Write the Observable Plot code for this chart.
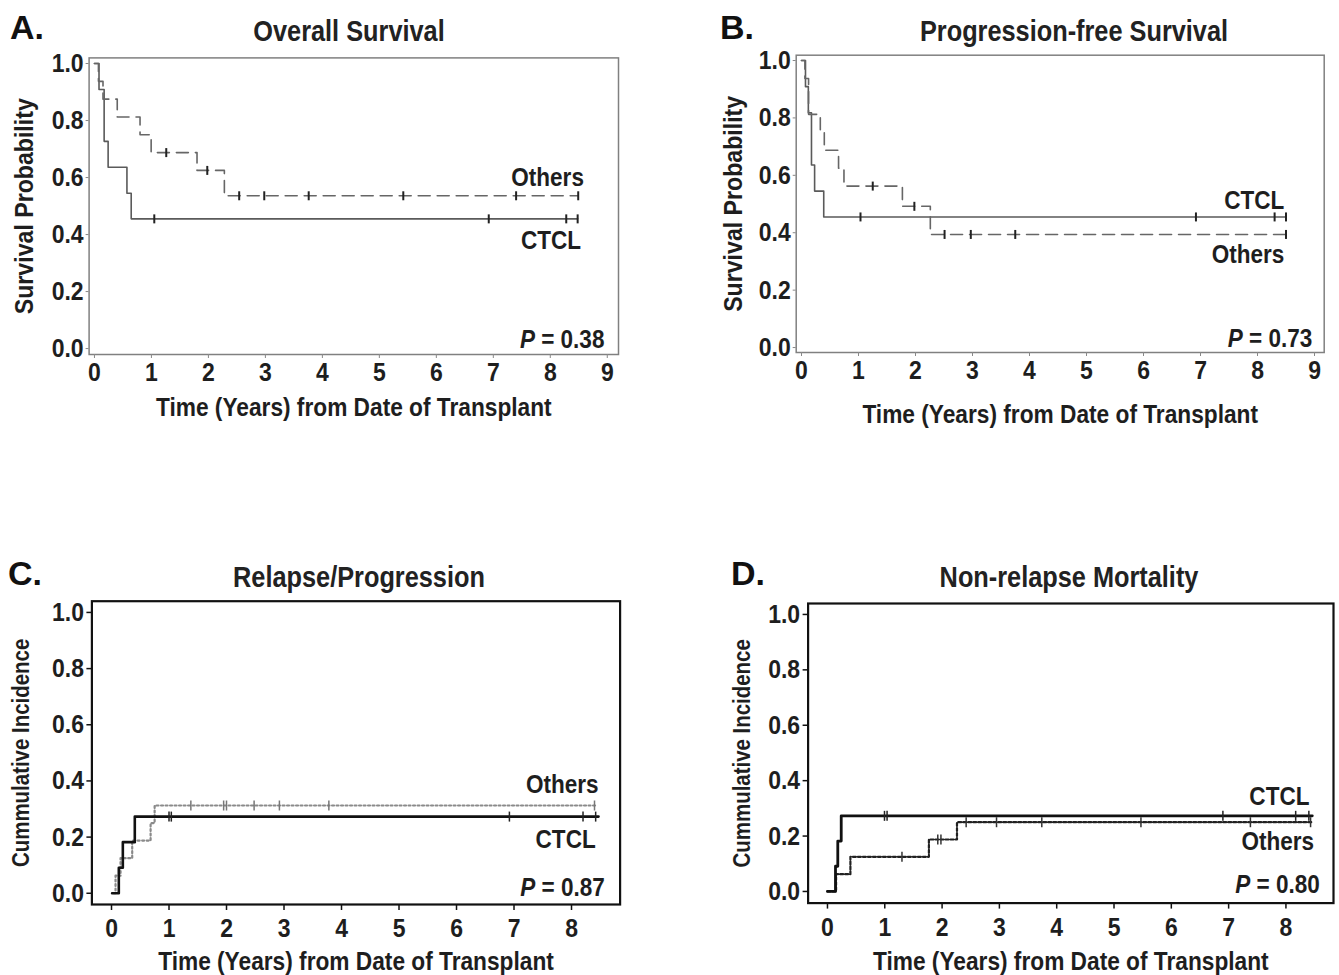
<!DOCTYPE html>
<html><head><meta charset="utf-8">
<script src="https://cdn.jsdelivr.net/npm/d3@7"></script>
<script src="https://cdn.jsdelivr.net/npm/@observablehq/plot@0.6"></script>
<style>
body{margin:0;background:#fff;}
#root{position:relative;width:1339px;height:975px;overflow:hidden;background:#fff;}
.panel{position:absolute;}
.letter{position:absolute;font-family:"Liberation Sans",Arial,sans-serif;font-weight:bold;font-size:34px;color:#111;white-space:nowrap;line-height:1;}
.title{position:absolute;font-family:"Liberation Sans",Arial,sans-serif;font-weight:bold;font-size:29.1px;color:#222;white-space:nowrap;line-height:1;transform:scaleX(0.87) translateX(-50%);transform-origin:0 0;}
</style></head><body><div id="root"></div>
<script>
// ---------- shared tick values ----------
const xTicksAB = [0,1,2,3,4,5,6,7,8,9];
const xTicksCD = [0,1,2,3,4,5,6,7,8];
const yTicks = [0,0.2,0.4,0.6,0.8,1.0];
const groups = ["CTCL","Others"];

// ---------- A. Overall Survival ----------
const osCtclTime = [0, 0.08, 0.17, 0.24, 0.57, 0.645, 8.48];
const osCtclProb = [1, 0.909, 0.727, 0.636, 0.545, 0.455, 0.455];
const osCtclCensorTime = [1.05, 6.92, 8.28, 8.48];
const osCtclCensorProb = [0.455, 0.455, 0.455, 0.455];
const osOthTime = [0, 0.07, 0.15, 0.40, 0.80, 0.995, 1.80, 2.28, 8.49];
const osOthProb = [1, 0.9375, 0.875, 0.8125, 0.75, 0.6875, 0.625, 0.536, 0.536];
const osOthCensorTime = [1.26, 1.98, 2.54, 2.98, 3.76, 5.42, 7.40, 8.49];
const osOthCensorProb = [0.6875, 0.625, 0.536, 0.536, 0.536, 0.536, 0.536, 0.536];

// ---------- B. Progression-free Survival ----------
const pfsCtclTime = [0, 0.07, 0.12, 0.175, 0.23, 0.39, 8.5];
const pfsCtclProb = [1, 0.909, 0.818, 0.636, 0.545, 0.455, 0.455];
const pfsCtclCensorTime = [1.035, 6.92, 8.30, 8.50];
const pfsCtclCensorProb = [0.455, 0.455, 0.455, 0.455];
const pfsOthTime = [0, 0.06, 0.124, 0.33, 0.40, 0.65, 0.745, 1.77, 2.26, 8.5];
const pfsOthProb = [1, 0.9375, 0.8125, 0.75, 0.6875, 0.625, 0.5625, 0.492, 0.394, 0.394];
const pfsOthCensorTime = [1.25, 1.98, 2.51, 2.97, 3.75, 8.50];
const pfsOthCensorProb = [0.5625, 0.492, 0.394, 0.394, 0.394, 0.394];

// ---------- C. Relapse/Progression ----------
const relCtclTime = [0.01, 0.127, 0.197, 0.405, 8.47];
const relCtclInc = [0, 0.091, 0.182, 0.273, 0.273];
const relCtclCensorTime = [1.0, 1.04, 6.92, 8.20, 8.42];
const relCtclCensorInc = [0.273, 0.273, 0.273, 0.273, 0.273];
const relOthTime = [0.04, 0.07, 0.157, 0.36, 0.68, 0.75, 8.44];
const relOthInc = [0, 0.0625, 0.125, 0.1875, 0.25, 0.3125, 0.3125];
const relOthCensorTime = [1.38, 1.95, 2.0, 2.48, 2.92, 3.78, 8.40];
const relOthCensorInc = [0.3125, 0.3125, 0.3125, 0.3125, 0.3125, 0.3125, 0.3125];

// ---------- D. Non-relapse Mortality ----------
const nrmCtclTime = [0, 0.14, 0.18, 0.24, 8.46];
const nrmCtclInc = [0, 0.091, 0.182, 0.273, 0.273];
const nrmCtclCensorTime = [0.995, 1.04, 6.90, 8.17, 8.40];
const nrmCtclCensorInc = [0.273, 0.273, 0.273, 0.273, 0.273];
const nrmOthTime = [0, 0.15, 0.40, 1.77, 2.26, 8.46];
const nrmOthInc = [0, 0.0625, 0.125, 0.1875, 0.25, 0.25];
const nrmOthCensorTime = [1.30, 1.925, 1.98, 2.42, 2.95, 3.74, 5.47, 7.38, 8.43];
const nrmOthCensorInc = [0.125, 0.1875, 0.1875, 0.25, 0.25, 0.25, 0.25, 0.25, 0.25];

// ---------- texts ----------
const panelLetters = ["A.", "B.", "C.", "D."];
const panelTitles = ["Overall Survival", "Progression-free Survival", "Relapse/Progression", "Non-relapse Mortality"];
const xTitle = "Time (Years) from Date of Transplant";
const yTitles = ["Survival Probability", "Survival Probability", "Cummulative Incidence", "Cummulative Incidence"];
const pValues = ["0.38", "0.73", "0.87", "0.80"];
// series label anchor (right end, vertical centre) in data units, order [CTCL, Others]
const labelT = [[8.54, 8.59], [8.47, 8.47], [8.42, 8.47], [8.41, 8.49]];
const labelV = [[0.378, 0.598], [0.512, 0.325], [0.19, 0.386], [0.341, 0.18]];
const pPosT = [8.95, 8.96, 8.58, 8.59];
const pPosV = [0.031, 0.032, 0.019, 0.024];

// ---------- helpers ----------
const FONT = "'Liberation Sans',Arial,sans-serif";
const SQUISH = 0.87; // condensing of the bold face along the text direction
const rows = (ts, vs) => ts.map((t, i) => ({t, v: vs[i]}));
const vbar = {draw(ctx, size) { const h = Math.sqrt(size / Math.PI); ctx.moveTo(0, -h); ctx.lineTo(0, h); }};

const panels = [
  {left: 0, top: 40, width: 660, height: 390, mL: 88.6, mR: 42, mT: 17.4, mB: 76,
   xDom: [-0.094, 9.197], yDom: [-0.0208, 1.0197], xTicks: xTicksAB,
   frame: {stroke: "#808080", strokeWidth: 1.5}, tick: {size: 4, pad: 4, ypad: 2.5, stroke: "#888", w: 1},
   xTitleDy: 61.3, yTitleDx: 74.6, yTitleSize: 26.6,
   series: [
     {time: osCtclTime, val: osCtclProb, ct: osCtclCensorTime, cv: osCtclCensorProb, color: "#5a5a5a", w: 1.6, dash: null, cc: "#222", cw: 2, cr: 4.5},
     {time: osOthTime, val: osOthProb, ct: osOthCensorTime, cv: osOthCensorProb, color: "#666", w: 1.6, dash: "12,7", cc: "#222", cw: 2, cr: 4.5}]},
  {left: 700, top: 40, width: 639, height: 390, mL: 95.7, mR: 15.3, mT: 14.7, mB: 78,
   xDom: [-0.093, 9.17], yDom: [-0.0173, 1.0185], xTicks: xTicksAB,
   frame: {stroke: "#808080", strokeWidth: 1.5}, tick: {size: 4, pad: 4, ypad: 2.5, stroke: "#888", w: 1},
   xTitleDy: 70.3, yTitleDx: 72.7, yTitleSize: 26.6,
   series: [
     {time: pfsCtclTime, val: pfsCtclProb, ct: pfsCtclCensorTime, cv: pfsCtclCensorProb, color: "#5a5a5a", w: 1.6, dash: null, cc: "#222", cw: 2, cr: 4.5},
     {time: pfsOthTime, val: pfsOthProb, ct: pfsOthCensorTime, cv: pfsOthCensorProb, color: "#666", w: 1.6, dash: "12,7", cc: "#222", cw: 2, cr: 4.5}]},
  {left: 0, top: 585, width: 660, height: 390, mL: 91.4, mR: 40.4, mT: 15.7, mB: 71,
   xDom: [-0.341, 8.845], yDom: [-0.040, 1.040], xTicks: xTicksCD,
   frame: {stroke: "#111", strokeWidth: 2.2}, tick: {size: 6, pad: 8, ypad: 3, stroke: "#111", w: 1.5},
   xTitleDy: 65, yTitleDx: 79.4, yTitleSize: 23.5,
   series: [
     {time: relOthTime, val: relOthInc, ct: relOthCensorTime, cv: relOthCensorInc, color: "#8a8a8a", w: 2.2, dash: "2,2.5", cc: "#777", cw: 1.5, cr: 5},
     {time: relCtclTime, val: relCtclInc, ct: relCtclCensorTime, cv: relCtclCensorInc, color: "#111", w: 2.6, dash: null, cc: "#222", cw: 1.5, cr: 5}]},
  {left: 700, top: 585, width: 639, height: 390, mL: 107.6, mR: 6, mT: 18, mB: 72.4,
   xDom: [-0.338, 8.83], yDom: [-0.042, 1.0395], xTicks: xTicksCD,
   frame: {stroke: "#111", strokeWidth: 2.2}, tick: {size: 6, pad: 8, ypad: 3, stroke: "#111", w: 1.5},
   xTitleDy: 66.4, yTitleDx: 74.6, yTitleSize: 23.5,
   series: [
     {time: nrmOthTime, val: nrmOthInc, ct: nrmOthCensorTime, cv: nrmOthCensorInc, color: "#222", w: 2.2, dash: "3,2", cc: "#333", cw: 1.5, cr: 5},
     {time: nrmCtclTime, val: nrmCtclInc, ct: nrmCtclCensorTime, cv: nrmCtclCensorInc, color: "#111", w: 2.8, dash: null, cc: "#222", cw: 1.5, cr: 5}]}
];
const letterPos = [[10, 10], [720, 10], [8, 556], [731, 556]];
const titlePos = [[349, 16.8], [1074, 16.8], [358.5, 562.8], [1068.5, 562.8]];

const root = document.getElementById("root");
panels.forEach((p, k) => {
  const marks = [];
  p.series.forEach(s => {
    marks.push(Plot.line(rows(s.time, s.val), {x: "t", y: "v", curve: "step-after", stroke: s.color, strokeWidth: s.w, strokeDasharray: s.dash || undefined}));
  });
  p.series.forEach(s => {
    marks.push(Plot.dot(rows(s.ct, s.cv), {x: "t", y: "v", symbol: vbar, r: s.cr, stroke: s.cc, strokeWidth: s.cw, fill: "none"}));
  });
  marks.push(Plot.frame(p.frame));
  marks.push(Plot.axisX(p.xTicks, {tickSize: p.tick.size, tickPadding: p.tick.pad, stroke: p.tick.stroke, strokeWidth: p.tick.w, fontSize: 26.4, label: null}));
  marks.push(Plot.axisY(yTicks, {tickSize: p.tick.size - 1, tickPadding: p.tick.ypad, stroke: p.tick.stroke, strokeWidth: p.tick.w, fontSize: 26.4, tickFormat: d3.format(".1f"), label: null}));
  marks.push(Plot.text([xTitle], {frameAnchor: "bottom", dy: p.xTitleDy, lineAnchor: "bottom", text: d => d, fontSize: 26.1}));
  marks.push(Plot.text([yTitles[k]], {frameAnchor: "left", rotate: -90, dx: -p.yTitleDx, lineAnchor: "top", textAnchor: "middle", text: d => d, fontSize: p.yTitleSize}));
  const lab = groups.map((g, i) => ({g, t: labelT[k][i], v: labelV[k][i]}));
  marks.push(Plot.text(lab, {x: "t", y: "v", text: "g", textAnchor: "end", lineAnchor: "middle", fontSize: 25.9}));
  marks.push(Plot.text(["P = " + pValues[k]], {x: () => pPosT[k], y: () => pPosV[k], text: d => d, textAnchor: "end", lineAnchor: "middle", fontSize: 25.9}));

  const svg = Plot.plot({
    width: p.width, height: p.height,
    marginLeft: p.mL, marginRight: p.mR, marginTop: p.mT, marginBottom: p.mB,
    x: {domain: p.xDom}, y: {domain: p.yDom},
    style: {fontFamily: FONT, fontWeight: "bold", color: "#1e1e1e", background: "transparent", overflow: "visible"},
    marks
  });
  d3.select(svg).selectAll("text").each(function() {
    const t = this.textContent;
    // italic P in p-value
    if (t && t.startsWith("P = ")) {
      const rest = t.slice(1);
      this.textContent = "";
      d3.select(this).append("tspan").attr("font-style", "italic").text("P");
      d3.select(this).append("tspan").text(rest);
    }
    // condense text along its own direction, about its anchor
    if (this.hasAttribute("transform")) {
      this.setAttribute("transform", this.getAttribute("transform") + ` scale(${SQUISH},1)`);
    } else {
      const x = parseFloat(this.getAttribute("x")) || 0;
      this.setAttribute("transform", `translate(${x},0) scale(${SQUISH},1) translate(${-x},0)`);
    }
  });
  const wrap = document.createElement("div");
  wrap.className = "panel";
  wrap.style.left = p.left + "px"; wrap.style.top = p.top + "px";
  wrap.appendChild(svg);
  root.appendChild(wrap);

  const L = document.createElement("div");
  L.className = "letter"; L.textContent = panelLetters[k];
  L.style.left = letterPos[k][0] + "px"; L.style.top = letterPos[k][1] + "px";
  root.appendChild(L);
  const T = document.createElement("div");
  T.className = "title"; T.textContent = panelTitles[k];
  T.style.left = titlePos[k][0] + "px"; T.style.top = titlePos[k][1] + "px";
  root.appendChild(T);
});
</script></body></html>
